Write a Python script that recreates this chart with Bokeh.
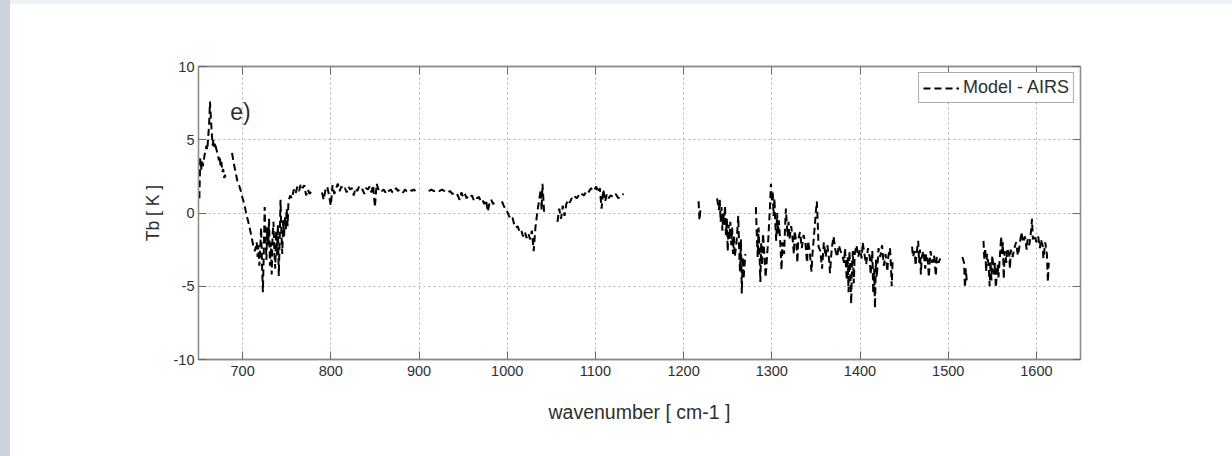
from bokeh.plotting import figure
from bokeh.models import (ColumnDataSource, LinearAxis, FixedTicker, Range1d,
                          Label, Div, Row, Column)
from bokeh.embed import file_html
from bokeh.resources import INLINE

nan = float("nan")

# ---- data ----
wavenumber = [
    651, 652, 653, 654, 655, 657, 659, 660, 661, 662, 663, 664, 665, 666, 667, 668, 669, 670,
    671, 672, 673, 674, 675, 676, 677, 678, 679, 680, 681, nan,
    688, 690, 692, 694, 696, 698, 700, 702, 704, 706, 708, 710, 712, 714, 716, 717, 718, 719, 720,
    721, 722, 723, 724, 725, 726, 727, 728, 729, 730, 731, 732, 733, 734, 735, 736, 737, 738, 739,
    740, 741, 742, 743, 744, 745, 746, 747, 748, 749, 750, 751, 752, 754, 756, 758, 760, 762, 764,
    766, 768, 770, 772, 774, 776, 778, nan,
    790, 792, 794, 796, 798, 800, 802, 804, 806, 808, 810, 812, 814, 816, 818, 820, 822, 824, 826,
    828, 830, 832, 834, 836, 838, 840, 842, 844, 846, 848, 850, 852, 854, 856, 858, 860, 862, 864,
    866, 868, 870, 872, 874, 876, 878, 880, 882, 884, 886, 888, 890, 892, 894, 896, nan,
    911, 914, 917, 920, 923, 926, 929, 932, 935, 938, 941, 944, 946, 948, 950, 952, 954, 956, 958,
    960, 962, 964, 966, 968, 970, 972, 974, 976, 978, 980, 982, 984, 986, nan,
    994, 996, 998, 1000, 1002, 1004, 1006, 1008, 1010, 1012, 1014, 1016, 1018, 1020, 1022, 1024,
    1026, 1028, 1030, 1032, 1034, 1036, 1038, 1039, 1040, 1041, 1042, nan,
    1057, 1059, 1061, 1063, 1065, 1067, 1069, 1071, 1073, 1075, 1077, 1079, 1081, 1083, 1085, 1087,
    1089, 1091, 1093, 1095, 1097, 1099, 1101, 1103, 1105, 1107, 1109, 1111, 1113, 1115, 1117, 1120,
    1123, 1126, 1129, 1132, nan,
    1217, 1218, 1219, nan,
    1238, 1240, 1241, 1242, 1243, 1244, 1245, 1246, 1247, 1248, 1249, 1250, 1251, 1252, 1253, 1254,
    1255, 1256, 1257, 1258, 1260, 1262, 1263, 1264, 1265, 1266, 1267, 1268, 1270, nan,
    1282, 1283, 1284, 1285, 1286, 1287, 1288, 1289, 1290, 1292, 1293, 1295, 1296, 1298, 1299, 1300,
    1301, 1302, 1303, 1304, 1305, 1306, 1307, 1308, 1310, 1311, 1312, 1314, 1315, 1316, 1317, 1318,
    1319, 1320, 1322, 1324, 1325, 1326, 1328, 1329, 1330, 1332, 1334, 1336, 1338, 1340, 1341, 1343,
    1345, 1346, 1351, 1352, 1353, 1355, 1357, 1359, 1361, 1363, 1365, 1366, 1368, 1370, 1372, 1374,
    1376, 1378, 1380, 1382, 1383, 1385, 1386, 1387, 1388, 1389, 1390, 1391, 1392, 1393, 1394, 1396,
    1398, 1400, 1402, 1403, 1405, 1407, 1409, 1411, 1412, 1414, 1415, 1416, 1417, 1418, 1419, 1421,
    1423, 1425, 1427, 1429, 1431, 1432, 1434, 1435, 1436, 1437, nan,
    1459, 1460, 1462, 1463, 1464, 1466, 1467, 1468, 1469, 1470, 1472, 1474, 1475, 1477, 1478, 1480,
    1482, 1484, 1486, 1487, 1489, 1491, nan,
    1516, 1518, 1519, 1520, 1521, nan,
    1540, 1541, 1542, 1543, 1544, 1546, 1547, 1548, 1549, 1550, 1552, 1553, 1554, 1556, 1557, 1559,
    1560, 1561, 1562, 1563, 1564, 1566, 1567, 1569, 1570, 1571, 1573, 1575, 1577, 1579, 1581, 1583,
    1585, 1587, 1589, 1590, 1592, 1594, 1595, 1596, 1598, 1600, 1602, 1604, 1605, 1607, 1608, 1610,
    1612, 1613, 1614,
]

tb_diff = [
    1.0, 3.8, 2.9, 3.6, 3.2, 4.0, 4.6, 4.3, 5.2, 6.0, 7.6, 6.5, 5.5, 4.6, 5.0, 4.5, 4.8, 4.4,
    4.2, 4.0, 3.6, 3.9, 3.2, 3.5, 2.8, 3.0, 2.4, 2.6, 2.2, nan,
    4.1, 3.4, 2.8, 2.2, 1.9, 1.5, 1.0, 0.6, 0.0, -0.5, -1.0, -1.6, -2.2, -2.6, -2.0, -3.0, -2.2, -3.6, -2.4,
    -1.0, -3.5, -5.4, -2.8, 0.4, -1.5, -3.2, -1.0, -2.2, -0.4, -3.6, -2.0, -4.2, -1.5, -0.6, -2.6, -3.8, -1.2, -2.9,
    -0.8, -4.3, -2.0, 0.9, -1.4, -2.8, -0.5, -1.6, -0.2, -1.1, 0.3, -0.9, 0.8, 1.2, 1.0, 1.6, 1.3, 1.8, 1.5,
    2.0, 1.7, 1.9, 1.2, 1.6, 1.3, 1.5, nan,
    1.4, 0.9, 1.6, 1.8, 1.2, 0.5, 1.9, 1.3, 1.7, 2.0, 1.5, 1.8, 1.6, 1.7, 1.4, 1.8, 1.6, 1.7, 1.2,
    1.7, 1.5, 1.8, 1.6, 1.6, 1.3, 1.7, 1.6, 1.8, 1.4, 1.9, 0.4, 2.0, 1.6, 1.7, 1.5, 1.6, 1.4, 1.6,
    1.5, 1.6, 1.4, 1.5, 1.7, 1.5, 1.6, 1.5, 1.4, 1.6, 1.5, 1.5, 1.6, 1.5, 1.6, 1.5, nan,
    1.5, 1.6, 1.5, 1.55, 1.5, 1.6, 1.5, 1.4, 1.5, 1.3, 1.4, 1.2, 0.9, 1.4, 1.1, 1.3, 1.0, 1.2, 1.1,
    1.2, 0.9, 1.1, 1.0, 1.1, 0.8, 0.9, 0.6, 0.9, 0.1, 0.7, 0.9, 0.6, 0.8, nan,
    0.8, 0.5, 0.3, 0.1, -0.2, -0.4, -0.3, -0.8, -1.0, -0.9, -1.3, -1.2, -1.6, -1.3, -1.7, -1.4,
    -1.8, -1.2, -2.6, -1.0, 0.0, 0.8, 1.6, 0.2, 2.0, 1.0, -0.1, nan,
    -0.6, 0.3, -0.4, 0.5, -0.2, 0.6, 0.9, 0.7, 1.0, 0.9, 1.1, 1.0, 1.2, 1.1, 1.3, 1.2,
    1.4, 1.3, 1.5, 1.7, 1.5, 1.6, 1.8, 1.4, 1.7, 0.3, 1.6, 0.8, 1.3, 1.0, 1.2, 1.1,
    1.3, 1.0, 1.2, 1.3, nan,
    0.8, -0.5, 0.2, nan,
    1.0, 0.2, 0.9, -0.6, 0.4, -1.2, 0.0, -0.8, 0.5, -1.5, -0.4, -2.6, -0.8, -1.8, -0.6, -2.2,
    -1.0, -2.8, -1.6, -3.0, -2.0, -0.2, -2.5, -4.0, -1.8, -5.5, -3.0, -4.5, -2.8, nan,
    0.4, -1.5, -3.0, -1.0, -2.6, -4.7, -2.0, -3.6, -1.4, -3.2, -4.4, -2.6, -1.8, 0.5, 2.0, 0.8,
    1.5, -0.2, 1.0, -0.8, -1.9, 0.0, -1.4, -0.5, -2.4, -3.9, -2.0, -2.8, -1.0, 0.3, -0.8, -1.6,
    -0.6, -1.8, -0.9, -2.0, -2.8, -1.2, -2.2, -3.4, -1.8, -1.3, -2.4, -1.5, -2.0, -3.4, -1.9, -2.6,
    -4.0, -2.9, 0.8, -0.5, -2.3, -2.6, -3.8, -2.0, -3.0, -2.2, -3.2, -4.1, -2.4, -1.6, -2.5, -3.0,
    -2.2, -2.6, -2.9, -3.4, -2.4, -4.6, -3.0, -5.4, -2.6, -4.0, -6.2, -3.4, -2.6, -4.8, -2.8, -2.2,
    -3.0, -2.5, -3.1, -2.0, -2.8, -3.5, -2.4, -3.0, -4.2, -2.6, -5.5, -3.8, -6.5, -3.2, -4.4, -2.4,
    -3.0, -2.2, -3.6, -2.8, -4.0, -3.0, -2.4, -3.5, -5.0, -3.2, nan,
    -2.3, -3.0, -2.6, -3.6, -2.8, -1.9, -3.4, -2.5, -4.2, -3.0, -2.6, -3.8, -2.8, -3.2, -4.4, -2.6,
    -3.4, -2.9, -4.3, -3.0, -3.4, -3.1, nan,
    -3.0, -3.4, -5.1, -3.8, -4.6, nan,
    -1.9, -3.2, -2.4, -4.0, -2.8, -3.6, -5.0, -3.3, -4.6, -2.9, -4.2, -3.4, -5.1, -3.5, -4.4, -2.6,
    -1.6, -2.8, -2.0, -4.5, -2.6, -3.4, -2.4, -2.8, -3.8, -2.5, -3.0, -2.4, -2.0, -2.9, -2.2, -1.3,
    -2.0, -1.6, -2.5, -1.8, -2.2, -1.2, -0.4, -1.8, -1.5, -2.0, -1.6, -2.4, -1.8, -2.2, -3.1, -2.0,
    -2.9, -4.7, -3.4,
]

x_ticks = [700, 800, 900, 1000, 1100, 1200, 1300, 1400, 1500, 1600]
y_ticks = [-10, -5, 0, 5, 10]
y_tick_labels = {-10: "-10", -5: "-5", 0: "0", 5: "5", 10: "10"}
series_name = "Model - AIRS"
panel_tag = "e)"

FONT = "Liberation Sans"
TXT = "#2e2e2e"
FRAME = "#8c8c8c"

source = ColumnDataSource(data=dict(x=wavenumber, y=tb_diff))

p = figure(width=1222, height=452, output_backend="svg", toolbar_location=None,
           x_range=Range1d(650, 1650), y_range=Range1d(-10, 10),
           min_border_left=188, min_border_right=152, min_border_top=62,
           min_border_bottom=97, background_fill_color="white",
           border_fill_color="white", outline_line_color=FRAME, outline_line_width=1.3,
           margin=0)

p.line("x", "y", source=source, line_color="black", line_width=2.0,
       line_dash="7 4", legend_label=series_name)

# axes
for ax in (p.xaxis[0], p.yaxis[0]):
    ax.axis_line_color = FRAME
    ax.axis_line_width = 1.3
    ax.major_tick_line_color = "#6a6a6a"
    ax.major_tick_in = 8
    ax.major_tick_out = 0
    ax.minor_tick_line_color = None
    ax.major_label_text_font = FONT
    ax.major_label_text_font_size = "14.5px"
    ax.major_label_text_color = TXT
    ax.axis_label_text_font = FONT
    ax.axis_label_text_font_style = "normal"
    ax.axis_label_text_color = TXT

p.xaxis.ticker = FixedTicker(ticks=x_ticks)
p.yaxis.ticker = FixedTicker(ticks=y_ticks)
p.yaxis.major_label_overrides = y_tick_labels
p.xaxis.axis_label = "wavenumber [ cm-1 ]"
p.yaxis.axis_label = "Tb [ K ]"
p.xaxis.axis_label_text_font_size = "19.5px"
p.yaxis.axis_label_text_font_size = "17.5px"
p.xaxis.major_label_standoff = 6
p.yaxis.major_label_standoff = 4
p.xaxis.axis_label_standoff = 22
p.yaxis.axis_label_standoff = 8

top_ax = LinearAxis(ticker=FixedTicker(ticks=x_ticks))
right_ax = LinearAxis(ticker=FixedTicker(ticks=y_ticks))
for ax in (top_ax, right_ax):
    ax.axis_line_color = FRAME
    ax.axis_line_width = 1.3
    ax.major_tick_line_color = "#6a6a6a"
    ax.major_tick_in = 8
    ax.major_tick_out = 0
    ax.minor_tick_line_color = None
    ax.major_label_text_color = None
    ax.major_label_text_font_size = "1px"
p.add_layout(top_ax, "above")
p.add_layout(right_ax, "right")

# grid
for g in (p.xgrid[0], p.ygrid[0]):
    g.grid_line_color = "#b0b0b0"
    g.grid_line_dash = "2 3"
    g.grid_line_width = 1
p.xgrid.ticker = FixedTicker(ticks=x_ticks)
p.ygrid.ticker = FixedTicker(ticks=y_ticks)

# panel tag
p.add_layout(Label(x=686, y=6.9, text=panel_tag, text_font=FONT,
                   text_font_size="23px", text_color=TXT, text_baseline="middle"))

# legend
lg = p.legend[0]
lg.location = "top_right"
lg.margin = 6
lg.padding = 4
lg.spacing = 0
lg.glyph_width = 36
lg.glyph_height = 18
lg.label_height = 18
lg.label_standoff = 4
lg.label_text_font = FONT
lg.label_text_font_size = "18px"
lg.label_text_color = TXT
lg.border_line_color = "#5a5a5a"
lg.border_line_width = 1.3
lg.background_fill_alpha = 1

left_strip = Div(text="", width=10, height=456, margin=0,
                 styles={"background-color": "#cbd3dc"})
top_strip = Div(text="", width=1222, height=4, margin=0,
                styles={"background-color": "#eef2f5"})
layout = Row(left_strip, Column(top_strip, p, spacing=0, margin=0), spacing=0, margin=0)

open("out.html", "w").write(file_html(layout, INLINE))
